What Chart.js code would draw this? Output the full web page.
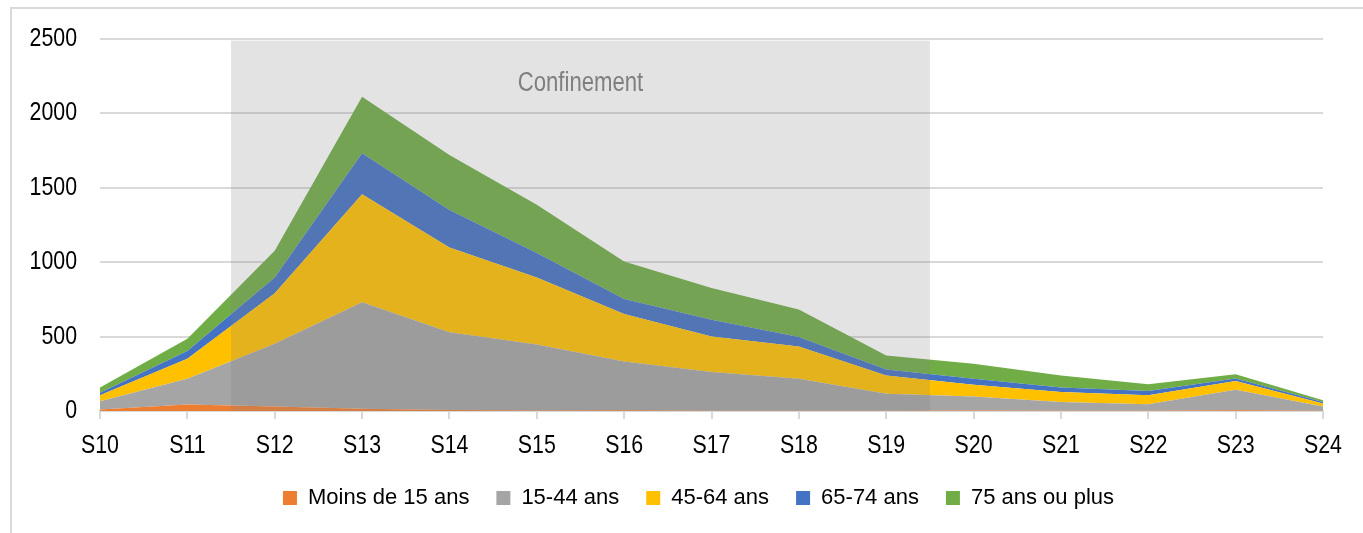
<!DOCTYPE html>
<html><head><meta charset="utf-8">
<script src="https://cdn.jsdelivr.net/npm/chart.js@4.4.0/dist/chart.umd.min.js"></script>
<style>
html,body{margin:0;padding:0;background:#fff;overflow:hidden}
#frame{position:absolute;left:10px;top:7px;width:1353px;height:526px;border-left:2px solid #d9d9d9;border-top:2px solid #d9d9d9;box-sizing:border-box}
#wrap{position:absolute;left:0;top:0;width:1363px;height:533px}
</style></head><body>
<div id="frame"></div>
<div id="wrap"><canvas id="c" width="1363" height="533"></canvas></div>
<script>
const categories = ['S10','S11','S12','S13','S14','S15','S16','S17','S18','S19','S20','S21','S22','S23','S24'];
const moins15   = [10, 43, 31, 15, 6, 4, 5, 2, 2, 2, 3, 2, 2, 5, 1];
const ans15_44  = [55, 174, 420, 715, 523, 443, 328, 259, 215, 114, 95, 58, 43, 138, 30];
const ans45_64  = [40, 134, 339, 725, 569, 450, 319, 239, 216, 123, 79, 67, 60, 58, 19];
const ans65_74  = [18, 51, 107, 275, 252, 163, 100, 112, 63, 40, 40, 30, 29, 18, 10];
const ans75plus = [34, 83, 179, 379, 369, 324, 252, 214, 185, 94, 100, 82, 45, 27, 12];
const seriesNames = ['Moins de 15 ans','15-44 ans','45-64 ans','65-74 ans','75 ans ou plus'];
const seriesColors = ['#ED7D31','#A5A5A5','#FFC000','#4472C4','#70AD47'];
const yTicks = [0, 500, 1000, 1500, 2000, 2500];
const confinementLabel = 'Confinement';
const confinementFrom = 1.5; // between S11 and S12
const confinementTo = 9.5;   // between S19 and S20
const confinementLabelAt = 2200;

const FONT = "'Liberation Sans',Arial,sans-serif";
const NARROW_FACTOR = 0.82; // emulate Arial Narrow

// draw text horizontally condensed (no narrow font installed)
function condensed(ctx, fn) {
  const orig = ctx.fillText;
  ctx.fillText = function (text, x, y, maxWidth) {
    this.save();
    this.translate(x, y);
    this.scale(NARROW_FACTOR, 1);
    orig.call(this, text, 0, 0);
    this.restore();
  };
  try { fn(); } finally { ctx.fillText = orig; }
}
class NarrowLinear extends Chart.LinearScale {
  drawLabels(area) { condensed(this.ctx, () => super.drawLabels(area)); }
}
NarrowLinear.id = 'narrowLinear';
NarrowLinear.defaults = Chart.LinearScale.defaults;
class NarrowCategory extends Chart.CategoryScale {
  drawLabels(area) { condensed(this.ctx, () => super.drawLabels(area)); }
}
NarrowCategory.id = 'narrowCategory';
NarrowCategory.defaults = Chart.CategoryScale.defaults;
Chart.register(NarrowLinear, NarrowCategory);

const seriesData = [moins15, ans15_44, ans45_64, ans65_74, ans75plus];
const datasets = seriesData.map((d, i) => ({
  label: seriesNames[i],
  data: d,
  backgroundColor: seriesColors[i],
  borderColor: seriesColors[i],
  borderWidth: 0,
  pointRadius: 0,
  tension: 0,
  fill: i === 0 ? 'origin' : '-1'
}));

const LEGEND_SHIFT = 27;
const shadePlugin = {
  id: 'shade',
  afterLayout(chart) {
    if (chart.legend) { chart.legend.left += LEGEND_SHIFT; chart.legend.right += LEGEND_SHIFT; }
  },
  afterDatasetsDraw(chart) {
    const {ctx, scales: {x, y}} = chart;
    const x0 = x.getPixelForValue(confinementFrom);
    const x1 = x.getPixelForValue(confinementTo);
    const y0 = y.getPixelForValue(yTicks[yTicks.length - 1]) + 2;
    const y1 = y.getPixelForValue(0);
    ctx.save();
    ctx.fillStyle = 'rgba(129,129,129,0.22)';
    ctx.fillRect(x0, y0, x1 - x0, y1 - y0);
    ctx.fillStyle = '#7f7f7f';
    ctx.font = '27px ' + FONT;
    ctx.textAlign = 'center';
    ctx.textBaseline = 'middle';
    condensed(ctx, () => ctx.fillText(confinementLabel, (x0 + x1) / 2, y.getPixelForValue(confinementLabelAt)));
    ctx.restore();
  }
};

new Chart(document.getElementById('c'), {
  type: 'line',
  data: { labels: categories, datasets },
  plugins: [shadePlugin],
  options: {
    responsive: false,
    animation: false,
    devicePixelRatio: 1,
    layout: { padding: { left: 20, right: 40, top: 35, bottom: 14 } },
    plugins: {
      tooltip: { enabled: false },
      legend: {
        position: 'bottom',
        labels: {
          boxWidth: 14, boxHeight: 14, padding: 27,
          color: '#000',
          font: { family: FONT, size: 22 }
        }
      }
    },
    scales: {
      x: {
        type: 'narrowCategory',
        offset: false,
        grid: { display: true, drawOnChartArea: false, drawTicks: true, tickLength: 8, color: '#d9d9d9', lineWidth: 2 },
        border: { display: true, color: '#d9d9d9', width: 2 },
        ticks: { color: '#000', font: { family: FONT, size: 26 }, padding: 11, maxRotation: 0, autoSkip: false },
        afterFit(s) { s.height = 49; }
      },
      y: {
        type: 'narrowLinear',
        stacked: true,
        min: 0, max: 2500,
        afterBuildTicks(s) { s.ticks = yTicks.map(v => ({ value: v })); },
        grid: { color: '#d9d9d9', lineWidth: 2, drawTicks: false },
        border: { display: false },
        ticks: { color: '#000', font: { family: FONT, size: 26 }, padding: 23, callback: v => String(v) },
        afterFit(s) { s.width = 80; }
      }
    }
  }
});
</script>
</body></html>
